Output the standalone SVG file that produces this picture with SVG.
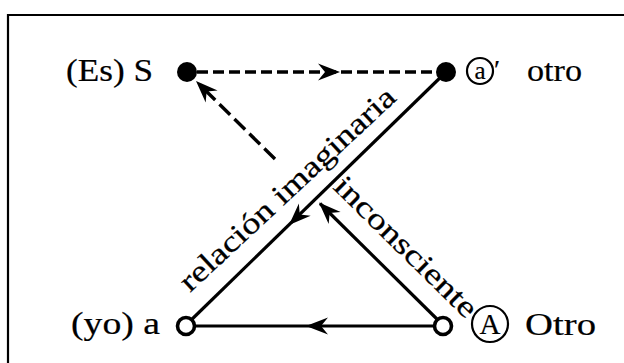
<svg xmlns="http://www.w3.org/2000/svg" width="624" height="363" viewBox="0 0 624 363">
<style>
  .lbl { font-family: "Liberation Serif", "Times New Roman", serif; font-size: 31px; fill: #000; stroke: #000; stroke-width: 0.2; }
  .rot { font-family: "Liberation Serif", "Times New Roman", serif; font-size: 30px; fill: #000; stroke: #000; stroke-width: 0.25; }
  .sol { stroke: #000; stroke-width: 3.2; fill: none; }
  .dsh { stroke: #000; stroke-width: 3.4; fill: none; }
  .ring { stroke: #000; stroke-width: 2.2; fill: none; }
  .inner { font-family: "Liberation Serif", "Times New Roman", serif; fill: #000; stroke: #000; stroke-width: 0.2; }
</style>
<defs>
  <path id="ah" d="M0,0 L-22,-8.5 L-15,0 L-22,8.5 Z" fill="#000"/>
</defs>
<rect width="624" height="363" fill="#fff"/>
<path d="M8,363 V15 H624" stroke="#000" stroke-width="2.2" fill="none"/>

<g id="connectors">
  <line class="dsh" x1="197" y1="72" x2="436" y2="72" stroke-dasharray="11 5"/>
  <use href="#ah" transform="translate(340,72)"/>
  <line class="sol" x1="446" y1="72" x2="186" y2="325"/>
  <use href="#ah" transform="translate(289,225) rotate(135.8)"/>
  <line class="sol" x1="443" y1="325" x2="320" y2="203.5"/>
  <use href="#ah" transform="translate(319,202.5) rotate(-135.3)"/>
  <line class="dsh" x1="275" y1="159" x2="200" y2="85" stroke-dasharray="15 6"/>
  <use href="#ah" transform="translate(196,81) rotate(-135.3)"/>
  <line class="sol" x1="433" y1="326" x2="196" y2="326"/>
  <use href="#ah" transform="translate(306,326) rotate(180)"/>
</g>

<g id="label-relacion">
  <text class="rot" x="0" y="0" textLength="284" lengthAdjust="spacingAndGlyphs" transform="translate(190,293) rotate(-43)">relación imaginaria</text>
</g>
<g id="label-inconsciente">
  <text class="rot" x="0" y="0" textLength="188" lengthAdjust="spacingAndGlyphs" transform="translate(332,188) rotate(44.5)">inconsciente</text>
</g>

<g id="node-S">
  <circle cx="187" cy="72" r="10" fill="#000"/>
  <text class="lbl" x="66" y="81" textLength="87" lengthAdjust="spacingAndGlyphs">(Es) S</text>
</g>
<g id="node-a-prime">
  <circle cx="446" cy="72" r="10" fill="#000"/>
  <circle class="ring" cx="480" cy="71" r="13"/>
  <text class="inner" x="480" y="79" text-anchor="middle" font-size="25">a</text>
  <text class="inner" x="494" y="79" font-size="28">′</text>
  <text class="lbl" x="527" y="81" textLength="55" lengthAdjust="spacingAndGlyphs">otro</text>
</g>
<g id="node-a">
  <circle cx="186" cy="326" r="8.5" fill="#fff" stroke="#000" stroke-width="3.6"/>
  <text class="lbl" x="71" y="334" textLength="89" lengthAdjust="spacingAndGlyphs">(yo) a</text>
</g>
<g id="node-A">
  <circle cx="443" cy="326" r="8.5" fill="#fff" stroke="#000" stroke-width="3.6"/>
  <circle class="ring" cx="490" cy="324" r="18"/>
  <text class="inner" x="490" y="334" text-anchor="middle" font-size="29">A</text>
  <text class="lbl" x="525" y="335" textLength="71" lengthAdjust="spacingAndGlyphs">Otro</text>
</g>
</svg>
